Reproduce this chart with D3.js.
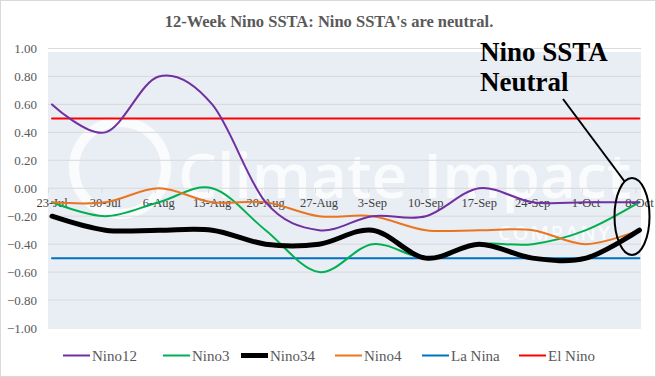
<!DOCTYPE html>
<html>
<head>
<meta charset="utf-8">
<script src="https://cdn.jsdelivr.net/npm/d3@7"></script>
<style>
  body { margin: 0; background: #fff; }
  text { font-family: "Liberation Serif", "Times New Roman", serif; }
</style>
</head>
<body>
<div id="chart"></div>
<script>
var weeks = ['23-Jul', '30-Jul', '6-Aug', '13-Aug', '20-Aug', '27-Aug', '3-Sep', '10-Sep', '17-Sep', '24-Sep', '1-Oct', '8-Oct'];
var nino12 = [0.6, 0.4, 0.8, 0.6, -0.1, -0.3, -0.2, -0.2, 0.0, -0.1, -0.1, -0.1];
var nino3 = [-0.1, -0.2, -0.1, 0.0, -0.3, -0.6, -0.4, -0.5, -0.4, -0.4, -0.3, -0.1];
var nino34 = [-0.2, -0.3, -0.3, -0.3, -0.4, -0.4, -0.3, -0.5, -0.4, -0.5, -0.5, -0.3];
var nino4 = [-0.1, -0.1, 0.0, -0.1, -0.1, -0.2, -0.2, -0.3, -0.3, -0.3, -0.4, -0.3];
var laNina = weeks.map(function() { return -0.5; });
var elNino = weeks.map(function() { return 0.5; });
var yTicks = [1, 0.8, 0.6, 0.4, 0.2, 0, -0.2, -0.4, -0.6, -0.8, -1];

var width = 656, height = 377;
var series = [
  { name: 'Nino12', values: nino12, color: '#7030a0', w: 2 },
  { name: 'Nino3', values: nino3, color: '#00b050', w: 2 },
  { name: 'Nino34', values: nino34, color: '#000000', w: 5 },
  { name: 'Nino4', values: nino4, color: '#e97520', w: 2 },
  { name: 'La Nina', values: laNina, color: '#0070c0', w: 2 },
  { name: 'El Nino', values: elNino, color: '#ff0000', w: 2 }
];

var svg = d3.select('#chart').append('svg')
  .attr('width', width).attr('height', height);

svg.append('rect')
  .attr('x', 0.5).attr('y', 0.5)
  .attr('width', width - 1).attr('height', height - 1)
  .attr('fill', '#fff').attr('stroke', '#d9d9d9');

var x = d3.scalePoint().domain(weeks).range([52, 639.4]);
var y = d3.scaleLinear().domain([-1, 1]).range([328, 48.5]);
var left = 48, right = 641;

// background picture of the plot area
svg.append('rect')
  .attr('x', left).attr('y', 52)
  .attr('width', right - left).attr('height', 275)
  .attr('fill', '#e9edf4');

// watermark
var wm = svg.append('g').attr('opacity', 0.8);
wm.append('circle').attr('cx', 120).attr('cy', 168).attr('r', 46)
  .attr('fill', 'none').attr('stroke', '#fff').attr('stroke-width', 10);
wm.append('text').attr('x', 178).attr('y', 198)
  .style('font-family', '"Open Sans", sans-serif')
  .style('font-size', '62px').style('font-weight', '600').attr('fill', '#fff')
  .text('Climate Impact');
wm.append('text').attr('x', 498).attr('y', 240)
  .style('font-family', '"Open Sans", sans-serif')
  .style('font-size', '20px').style('font-weight', '600').attr('fill', '#fff')
  .attr('letter-spacing', 2)
  .text('COMPANY');

// gridlines
svg.append('g').selectAll('line')
  .data(yTicks)
  .enter().append('line')
  .attr('x1', left).attr('x2', right)
  .attr('y1', function(d) { return y(d); })
  .attr('y2', function(d) { return y(d); })
  .attr('stroke', '#d9d9d9').attr('stroke-width', 1);

svg.append('g').selectAll('text')
  .data(yTicks)
  .enter().append('text')
  .attr('x', 37).attr('y', function(d) { return y(d) + 4.5; })
  .attr('text-anchor', 'end')
  .style('font-size', '13px').attr('fill', '#595959')
  .text(function(d) { return d3.format('.2f')(d); });

// category ticks on the zero line
svg.append('g').selectAll('line')
  .data(weeks)
  .enter().append('line')
  .attr('x1', function(d) { return x(d) - 3.6; })
  .attr('x2', function(d) { return x(d) - 3.6; })
  .attr('y1', y(0)).attr('y2', y(0) + 5)
  .attr('stroke', '#d9d9d9');

svg.append('g').selectAll('text')
  .data(weeks)
  .enter().append('text')
  .attr('x', function(d) { return x(d); })
  .attr('y', y(0) + 19)
  .attr('text-anchor', 'middle')
  .style('font-size', '12.5px')
  .attr('fill', '#404040')
  .text(function(d) { return d; });

var line = d3.line()
  .x(function(d, i) { return x(weeks[i]); })
  .y(function(d) { return y(d); })
  .curve(d3.curveCardinal.tension(0));

var order = ['La Nina', 'El Nino', 'Nino3', 'Nino4', 'Nino12', 'Nino34'];
svg.append('g').selectAll('path')
  .data(order.map(function(n) { return series.find(function(s) { return s.name === n; }); }))
  .enter().append('path')
  .attr('d', function(s) { return line(s.values); })
  .attr('fill', 'none')
  .attr('stroke', function(s) { return s.color; })
  .attr('stroke-width', function(s) { return s.w; })
  .attr('stroke-linecap', 'round');

// title
svg.append('text')
  .attr('x', 329).attr('y', 27)
  .attr('text-anchor', 'middle')
  .style('font-size', '16.5px').style('font-weight', 'bold')
  .attr('fill', '#595959')
  .text("12-Week Nino SSTA: Nino SSTA's are neutral.");

// annotation
var ann = svg.append('g');
ann.append('text').attr('x', 480).attr('y', 61)
  .style('font-size', '27px').style('font-weight', 'bold').attr('fill', '#000')
  .text('Nino SSTA');
ann.append('text').attr('x', 480).attr('y', 91)
  .style('font-size', '27px').style('font-weight', 'bold').attr('fill', '#000')
  .text('Neutral');
ann.append('line')
  .attr('x1', 563).attr('y1', 99).attr('x2', 625).attr('y2', 182)
  .attr('stroke', '#000').attr('stroke-width', 2);
ann.append('ellipse')
  .attr('cx', 632).attr('cy', 216.5).attr('rx', 17.5).attr('ry', 38.5)
  .attr('fill', 'none').attr('stroke', '#000').attr('stroke-width', 2);

// legend
var legendX = [63, 163, 241, 335, 422, 519];
var legend = svg.selectAll('.legend-key')
  .data(series)
  .enter().append('g')
  .attr('class', 'legend-key')
  .attr('transform', function(d, i) { return 'translate(' + legendX[i] + ',355.5)'; });

legend.append('line')
  .attr('x1', 0).attr('x2', 27)
  .attr('stroke', function(d) { return d.color; })
  .attr('stroke-width', function(d) { return d.w; });
legend.append('text')
  .attr('x', 29).attr('y', 5)
  .style('font-size', '15px').attr('fill', '#595959')
  .text(function(d) { return d.name; });
</script>
</body>
</html>
